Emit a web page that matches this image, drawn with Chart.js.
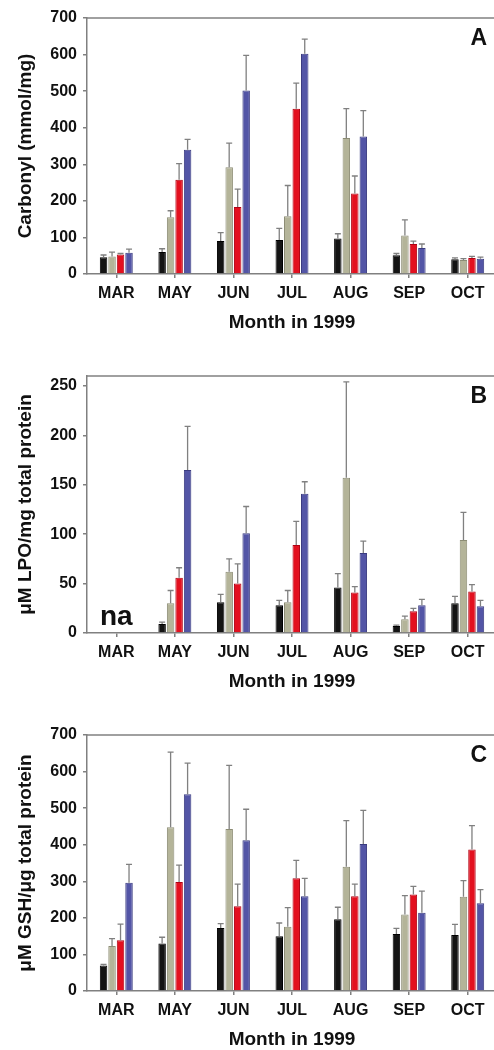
<!DOCTYPE html>
<html>
<head>
<meta charset="utf-8">
<script src="https://cdn.jsdelivr.net/npm/chart.js@4.4.0/dist/chart.umd.min.js"></script>
<style>
  html, body { margin: 0; padding: 0; background: #fff; overflow: hidden; width: 494px; height: 1050px; }
  .panel { position: absolute; left: 0; }
</style>
</head>
<body>
<canvas id="chartA" class="panel" style="top:0px" width="500" height="340"></canvas>
<canvas id="chartB" class="panel" style="top:340px" width="500" height="360"></canvas>
<canvas id="chartC" class="panel" style="top:700px" width="500" height="352"></canvas>
<script>
const months = ['MAR', 'MAY', 'JUN', 'JUL', 'AUG', 'SEP', 'OCT'];

// Panel A: carbonyl, bar means and top of error bar
const carbonyl1 = [46, 60, 90, 93, 97, 51, 40];
const carbonyl2 = [48, 155, 292, 158, 372, 105, 38];
const carbonyl3 = [53, 258, 183, 452, 220, 82, 44];
const carbonyl4 = [58, 340, 502, 602, 376, 71, 42];
const carbonyl1Hi = [52, 69, 113, 125, 110, 56, 44];
const carbonyl2Hi = [60, 173, 358, 242, 452, 148, 42];
const carbonyl3Hi = [56, 302, 232, 522, 268, 90, 48];
const carbonyl4Hi = [68, 368, 598, 642, 447, 82, 46];

// Panel B: LPO (MAR not available)
const lpo1 = [null, 9, 31, 28, 46, 7, 30];
const lpo2 = [null, 30, 62, 31, 157, 14, 94];
const lpo3 = [null, 56, 50, 89, 41, 22, 42];
const lpo4 = [null, 165, 101, 141, 81, 28, 27];
const lpo1Hi = [null, 11, 39, 33, 60, 8, 37];
const lpo2Hi = [null, 43, 75, 43, 254, 17, 122];
const lpo3Hi = [null, 66, 70, 113, 47, 25, 49];
const lpo4Hi = [null, 209, 128, 153, 93, 34, 33];

// Panel C: GSH
const gsh1 = [70, 130, 172, 150, 196, 156, 153];
const gsh2 = [123, 448, 443, 176, 340, 209, 258];
const gsh3 = [139, 298, 232, 308, 259, 264, 387];
const gsh4 = [296, 538, 412, 259, 402, 214, 240];
const gsh1Hi = [73, 147, 184, 186, 229, 171, 182];
const gsh2Hi = [143, 653, 617, 228, 466, 261, 302];
const gsh3Hi = [183, 344, 292, 357, 292, 286, 452];
const gsh4Hi = [346, 623, 497, 308, 494, 273, 277];

const barColors = ['#141414', '#b4b499', '#e3101f', '#5355a6'];
const barBorders = ['#000000', '#8c8c74', '#b00012', '#3a3b80'];
const axisGray = '#808080';
const fontFamily = '"Liberation Sans", Arial, sans-serif';

// whiskers (upper only) drawn from the bar top to the high value
const errorBars = {
  id: 'errorBars',
  afterDatasetsDraw(chart, args, opts) {
    const ctx = chart.ctx;
    const y = chart.scales.y;
    ctx.save();
    ctx.strokeStyle = '#808080';
    ctx.lineWidth = 1.3;
    chart.data.datasets.forEach((ds, di) => {
      const meta = chart.getDatasetMeta(di);
      meta.data.forEach((bar, i) => {
        const hi = ds.hi[i];
        if (hi == null || ds.data[i] == null) return;
        const yHi = y.getPixelForValue(hi);
        ctx.beginPath();
        ctx.moveTo(bar.x, bar.y);
        ctx.lineTo(bar.x, yHi);
        ctx.moveTo(bar.x - 3, yHi);
        ctx.lineTo(bar.x + 3, yHi);
        ctx.stroke();
      });
    });
    ctx.restore();
  }
};

// top frame line, panel letter and "na" note
const decorations = {
  id: 'decorations',
  afterDraw(chart, args, opts) {
    const ctx = chart.ctx;
    const area = chart.chartArea;
    ctx.save();
    ctx.strokeStyle = axisGray;
    ctx.lineWidth = 1.5;
    ctx.beginPath();
    ctx.moveTo(area.left, area.top);
    ctx.lineTo(chart.width, area.top);
    ctx.stroke();

    ctx.fillStyle = '#111';
    ctx.font = 'bold 23px ' + fontFamily;
    ctx.textAlign = 'right';
    ctx.textBaseline = 'middle';
    ctx.fillText(opts.letter, area.right - 10, area.top + 21);

    if (opts.naIndex != null) {
      ctx.font = 'bold 28px ' + fontFamily;
      ctx.textAlign = 'center';
      ctx.textBaseline = 'alphabetic';
      ctx.fillText('na', chart.scales.x.getPixelForValue(opts.naIndex), area.bottom - 8);
    }
    ctx.restore();
  }
};

function makePanel(id, series, highs, yMax, yStep, yTickMax, yTitle, letter, naIndex, padTop, padBottom) {
  const datasets = series.map((s, k) => ({
    data: s,
    hi: highs[k],
    backgroundColor: barColors[k],
    borderColor: barBorders[k],
    borderWidth: 1,
    categoryPercentage: 0.58,
    barPercentage: 0.88
  }));
  return new Chart(document.getElementById(id), {
    type: 'bar',
    data: { labels: months, datasets: datasets },
    plugins: [errorBars, decorations],
    options: {
      responsive: false,
      animation: false,
      events: [],
      layout: { padding: { top: padTop, bottom: padBottom, left: 0, right: 3 } },
      plugins: {
        legend: { display: false },
        tooltip: { enabled: false },
        decorations: { letter: letter, naIndex: naIndex }
      },
      scales: {
        x: {
          afterFit: (scale) => { scale.height = 60; },
          grid: { display: true, drawOnChartArea: false, offset: false, tickLength: 4, color: axisGray, lineWidth: 1.5 },
          border: { color: axisGray, width: 1.5 },
          ticks: { color: '#111', padding: 6, font: { family: fontFamily, size: 16, weight: 'bold' } },
          title: {
            display: true, text: 'Month in 1999', color: '#111',
            padding: { top: 0, bottom: 0 },
            font: { family: fontFamily, size: 19, weight: 'bold' }
          }
        },
        y: {
          min: 0, max: yMax,
          afterFit: (scale) => { scale.width = 87; },
          afterBuildTicks: (scale) => {
            const t = [];
            for (let v = 0; v <= yTickMax; v += yStep) t.push({ value: v });
            scale.ticks = t;
          },
          grid: { display: true, drawOnChartArea: false, tickLength: 4, color: axisGray, lineWidth: 1.5 },
          border: { color: axisGray, width: 1.5 },
          ticks: {
            color: '#111', padding: 6,
            font: { family: fontFamily, size: 16, weight: 'bold' }
          },
          title: {
            display: true, text: yTitle, color: '#111',
            padding: { top: 14, bottom: 0 },
            font: { family: fontFamily, size: 19, weight: 'bold' }
          }
        }
      }
    }
  });
}

makePanel('chartA',
  [carbonyl1, carbonyl2, carbonyl3, carbonyl4],
  [carbonyl1Hi, carbonyl2Hi, carbonyl3Hi, carbonyl4Hi],
  700, 100, 700, 'Carbonyl (mmol/mg)', 'A', null, 18, 6);

makePanel('chartB',
  [lpo1, lpo2, lpo3, lpo4],
  [lpo1Hi, lpo2Hi, lpo3Hi, lpo4Hi],
  260, 50, 250, 'μM LPO/mg total protein', 'B', 0, 36, 7);

makePanel('chartC',
  [gsh1, gsh2, gsh3, gsh4],
  [gsh1Hi, gsh2Hi, gsh3Hi, gsh4Hi],
  700, 100, 700, 'μM GSH/μg total protein', 'C', null, 35, 1);
</script>
</body>
</html>
